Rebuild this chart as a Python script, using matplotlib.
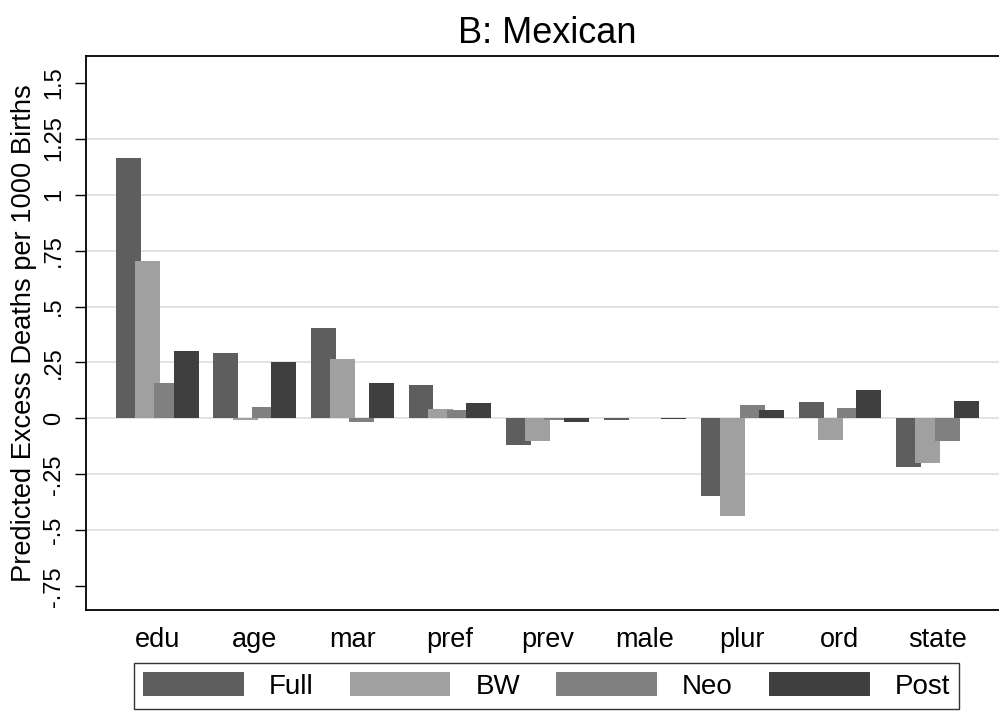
"""
Decomposition of predicted excess infant deaths, Mexican births.
"""
import matplotlib
matplotlib.use('Agg')
import matplotlib.pyplot as plt
import numpy as np

# covariate groups and the four outcome series
categories = ['edu', 'age', 'mar', 'pref', 'prev', 'male', 'plur', 'ord', 'state']
series     = ['Full', 'BW', 'Neo', 'Post']

full = [1.165, 0.293, 0.406, 0.148, -0.118, -0.005, -0.344, 0.073, -0.218]
bw   = [0.705, -0.005, 0.266, 0.042, -0.100, 0.002, -0.435, -0.097, -0.197]
neo  = [0.158, 0.051, -0.015, 0.039, -0.005, 0.002, 0.061, 0.045, -0.100]
post = [0.301, 0.251, 0.157, 0.070, -0.014, -0.003, 0.037, 0.125, 0.076]

yticks      = [-0.75, -0.5, -0.25, 0, 0.25, 0.5, 0.75, 1, 1.25, 1.5]
ytick_text  = ['-.75', '-.5', '-.25', '0', '.25', '.5', '.75', '1', '1.25', '1.5']
grid_levels = [-0.5, -0.25, 0, 0.25, 0.5, 0.75, 1, 1.25]

colors = ['#5e5e5e', '#a0a0a0', '#808080', '#3f3f3f']

plt.rcParams['font.family'] = ['Liberation Sans', 'DejaVu Sans']


def plot_decomposition(save_path='out.png'):
    fig = plt.figure(figsize=(9.99, 7.11), dpi=100)
    # plot region runs slightly past the right edge, as in the Stata export
    ax = fig.add_axes([0.0858, 0.1421, 0.9242, 0.7796])

    x     = np.arange(len(categories))
    width = 0.256
    step  = 0.197

    for ln in grid_levels:
        ax.axhline(ln, color='#e0e0e0', linewidth=1.3, zorder=0)

    # later series drawn on top so bars overlap left to right
    for i, (name, vals) in enumerate(zip(series, [full, bw, neo, post])):
        ax.bar(x + (i - 1.5) * step, vals, width=width, color=colors[i],
               linewidth=0, label=name, zorder=2 + i)

    ax.set_xlim(-0.733, len(categories) - 1 + 0.733)
    ax.set_ylim(-0.855, 1.62)

    ax.set_xticks(x)
    ax.set_xticklabels(categories, fontsize=19.5)
    ax.tick_params(axis='x', length=0, pad=12)

    ax.set_yticks(yticks)
    ax.set_yticklabels(ytick_text, rotation=90, va='center', fontsize=17)
    ax.tick_params(axis='y', length=8, width=1.0, pad=7)
    ax.set_ylabel('Predicted Excess Deaths per 1000 Births', fontsize=19.6)
    ax.yaxis.set_label_coords(-0.053, 0.5)

    for side in ['top', 'left', 'bottom']:
        ax.spines[side].set_linewidth(1.3)
    ax.spines['right'].set_visible(False)

    fig.text(547 / 999, 1 - 43.3 / 711, 'B: Mexican', ha='center',
             va='baseline', fontsize=26)

    leg = ax.legend(loc='upper left', bbox_to_anchor=(0.1344, 0.0, 0.8255, 0.0671),
                    bbox_transform=fig.transFigure, mode='expand', ncol=4,
                    fontsize=20, handlelength=3.62, handleheight=0.96,
                    handletextpad=0.9, borderpad=0.32, borderaxespad=0,
                    fancybox=False, framealpha=1)
    leg.get_frame().set_edgecolor('#333333')
    leg.get_frame().set_linewidth(1.0)

    fig.savefig(save_path, dpi=100)
    plt.close(fig)


plot_decomposition()
